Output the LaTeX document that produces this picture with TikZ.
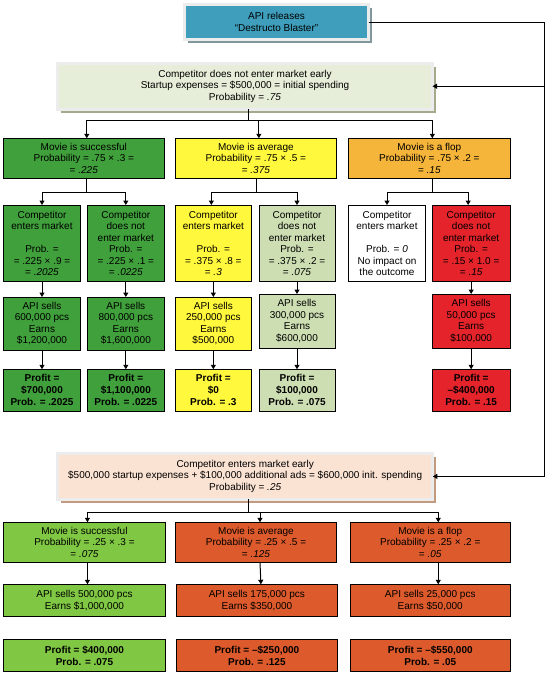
\documentclass[tikz,border=0pt]{standalone}
\usepackage{fontspec}
\setmainfont{Liberation Sans}
\usetikzlibrary{arrows.meta,shadows}
\definecolor{cTeal}{HTML}{3E9EBC}
\definecolor{cPale}{HTML}{E6EDD8}
\definecolor{cPeach}{HTML}{FBE3D3}
\definecolor{cFrame}{HTML}{ECECEC}
\definecolor{cShTeal}{HTML}{7F979D}
\definecolor{cShOlive}{HTML}{A4AA8C}
\definecolor{cShBrown}{HTML}{C29A80}
\definecolor{cGreen}{HTML}{40A03B}
\definecolor{cYellow}{HTML}{FFF83C}
\definecolor{cOrange}{HTML}{F5B43A}
\definecolor{cSage}{HTML}{CEDEB3}
\definecolor{cRed}{HTML}{E4232A}
\definecolor{cLime}{HTML}{80C843}
\definecolor{cBrick}{HTML}{DC5A2B}
\newcommand{\bx}[7]{\node[#6, minimum width={#4pt-#2pt}, minimum height={#5pt-#3pt}] (#1) at ({(#2+#4)/2},{(#3+#5)/2}) {#7};}
\newcommand{\forkto}[5]{\draw[arr] ([xshift=#2pt]#1.south) -- ++(0,#3) -| ([xshift=#5pt]#4.north);}
\begin{document}
\begin{tikzpicture}[x=1pt,y=-1pt,
  box/.style={draw=black, line width=1pt, inner sep=0pt, outer sep=0pt, align=center, font=\fontsize{10}{11.5}\selectfont, text=black},
  bbox/.style={box, font=\fontsize{10}{12}\selectfont\bfseries},
  framed/.style={draw=cFrame, line width=3pt, inner sep=0pt, outer sep=0pt, align=center, font=\fontsize{10}{11.5}\selectfont, text=black, drop shadow={shadow xshift=3.5pt, shadow yshift=-3.5pt, fill=#1, opacity=1}},
  arr/.style={line width=1pt, -{Triangle[width=5pt,length=4.5pt]}},
  ln/.style={line width=1pt}]
\useasboundingbox (0,0) rectangle (551,677);

% ---------- top ----------
\bx{top}{184.5}{4.8}{368.5}{39.5}{framed=cShTeal, fill=cTeal}{API releases\\“Destructo Blaster”}
\bx{cno}{57.5}{63.5}{432.5}{109}{framed=cShOlive, fill=cPale}{Competitor does not enter market early\\Startup expenses = \$500,000 = initial spending\\Probability = \textit{.75}}

% row 1
\bx{m1}{3.3}{138.3}{164.3}{178.3}{box, fill=cGreen}{Movie is successful\\Probability = .75 × .3 =\\= \textit{.225}}
\bx{m2}{175}{138.3}{336.7}{178.3}{box, fill=cYellow}{Movie is average\\Probability = .75 × .5 =\\= \textit{.375}}
\bx{m3}{348.7}{138.3}{510}{178.3}{box, fill=cOrange}{Movie is a flop\\Probability = .75 × .2 =\\= \textit{.15}}

% row 2
\bx{c1}{3.3}{205}{80.7}{281.7}{box, fill=cGreen}{Competitor\\enters market\\[11.5pt]Prob. =\\= .225 × .9 =\\= \textit{.2025}}
\bx{c2}{87.3}{205}{164.3}{281.7}{box, fill=cGreen}{Competitor\\does not\\enter market\\Prob. =\\= .225 × .1 =\\= \textit{.0225}}
\bx{c3}{175}{205}{251.7}{281.7}{box, fill=cYellow}{Competitor\\enters market\\[11.5pt]Prob. =\\= .375 × .8 =\\= \textit{.3}}
\bx{c4}{259}{205}{335}{281.7}{box, fill=cSage}{Competitor\\does not\\enter market\\Prob. =\\= .375 × .2 =\\= \textit{.075}}
\bx{c5}{348.7}{205}{425.3}{281.7}{box, fill=white}{Competitor\\enters market\\[11.5pt]Prob. = \textit{0}\\No impact on\\the outcome}
\bx{c6}{432.3}{205}{510}{281.7}{box, fill=cRed}{Competitor\\does not\\enter market\\Prob. =\\= .15 × 1.0 =\\= \textit{.15}}

% row 3
\bx{a1}{3.3}{297}{80.7}{350}{box, fill=cGreen}{API sells\\600,000 pcs\\Earns\\\$1,200,000}
\bx{a2}{87.3}{297}{164.3}{350}{box, fill=cGreen}{API sells\\800,000 pcs\\Earns\\\$1,600,000}
\bx{a3}{175}{297}{251.7}{350}{box, fill=cYellow}{API sells\\250,000 pcs\\Earns\\\$500,000}
\bx{a4}{259}{294}{335}{348.3}{box, fill=cSage}{API sells\\300,000 pcs\\Earns\\\$600,000}
\bx{a6}{432.3}{294}{510}{348.3}{box, fill=cRed}{API sells\\50,000 pcs\\Earns\\\$100,000}

% row 4
\bx{p1}{3.3}{369.3}{80.7}{411}{bbox, fill=cGreen}{Profit =\\\$700,000\\Prob. = .2025}
\bx{p2}{87.3}{369.3}{164.3}{411}{bbox, fill=cGreen}{Profit =\\\$1,100,000\\Prob. = .0225}
\bx{p3}{175}{369.3}{251.7}{411}{bbox, fill=cYellow}{Profit =\\\$0\\Prob. = .3}
\bx{p4}{259}{369.3}{335}{411}{bbox, fill=cSage}{Profit =\\\$100,000\\Prob. = .075}
\bx{p6}{432.3}{369.3}{510}{411}{bbox, fill=cRed}{Profit =\\–\$400,000\\Prob. = .15}

% ---------- bottom ----------
\bx{ce}{57.5}{453.8}{432.8}{499}{framed=cShBrown, fill=cPeach}{Competitor enters market early\\\$500,000 startup expenses + \$100,000 additional ads = \$600,000 init. spending\\Probability = \textit{.25}}

\bx{b1}{3.5}{522.3}{165.4}{562.3}{box, fill=cLime}{Movie is successful\\Probability = .25 × .3 =\\= \textit{.075}}
\bx{b2}{175.6}{522.3}{336.4}{562.3}{box, fill=cBrick}{Movie is average\\Probability = .25 × .5 =\\= \textit{.125}}
\bx{b3}{350}{522.3}{510.5}{562.3}{box, fill=cBrick}{Movie is a flop\\Probability = .25 × .2 =\\= \textit{.05}}

\bx{d1}{3.5}{584.3}{165.4}{616.7}{box, fill=cLime}{API sells 500,000 pcs\\Earns \$1,000,000}
\bx{d2}{176.3}{584.3}{337.5}{616.7}{box, fill=cBrick}{API sells 175,000 pcs\\Earns \$350,000}
\bx{d3}{350}{584.3}{510.5}{616.7}{box, fill=cBrick}{API sells 25,000 pcs\\Earns \$50,000}

\bx{q1}{3.5}{639}{165.4}{671.7}{bbox, fill=cLime}{Profit = \$400,000\\Prob. = .075}
\bx{q2}{176.3}{639}{337.5}{671.7}{bbox, fill=cBrick}{Profit = –\$250,000\\Prob. = .125}
\bx{q3}{350}{639}{510.5}{671.7}{bbox, fill=cBrick}{Profit = –\$550,000\\Prob. = .05}

% ---------- connectors ----------
\coordinate (rl) at (544,0);
\draw[ln] (top.east) -- (top.east -| rl) coordinate (rc);
\draw[arr] (rc) |- (cno.east);
\draw[arr] (rc) |- (ce.east);

\forkto{cno}{3}{11.7}{m1}{3}
\forkto{cno}{3}{11.7}{m2}{3}
\forkto{cno}{3}{11.7}{m3}{3}

\forkto{m1}{3}{14}{c1}{0}
\forkto{m1}{3}{14}{c2}{0}
\forkto{m2}{1}{14}{c3}{-2}
\forkto{m2}{1}{14}{c4}{0}
\forkto{m3}{3}{14}{c5}{0}
\forkto{m3}{3}{14}{c6}{-3}

\draw[arr] (c1.south) -- (a1.north);
\draw[arr] (c2.south) -- (a2.north);
\draw[arr] (c3.south) -- (a3.north);
\draw[arr] (c4.south) -- (a4.north);
\draw[arr] (c6.south) -- (a6.north);
\draw[arr] (a1.south) -- (p1.north);
\draw[arr] (a2.south) -- (p2.north);
\draw[arr] (a3.south) -- (p3.north);
\draw[arr] (a4.south) -- (p4.north);
\draw[arr] (a6.south) -- (p6.north);

\forkto{ce}{3}{13.3}{b1}{3}
\forkto{ce}{3}{13.3}{b2}{4}
\forkto{ce}{3}{13.3}{b3}{8}

\draw[arr] ([xshift=3pt]b1.south) -- ([xshift=3pt]d1.north);
\draw[arr] ([xshift=4pt]b2.south) -- ([xshift=4pt]d2.north);
\draw[arr] ([xshift=8pt]b3.south) -- ([xshift=8pt]d3.north);
\end{tikzpicture}
\end{document}
